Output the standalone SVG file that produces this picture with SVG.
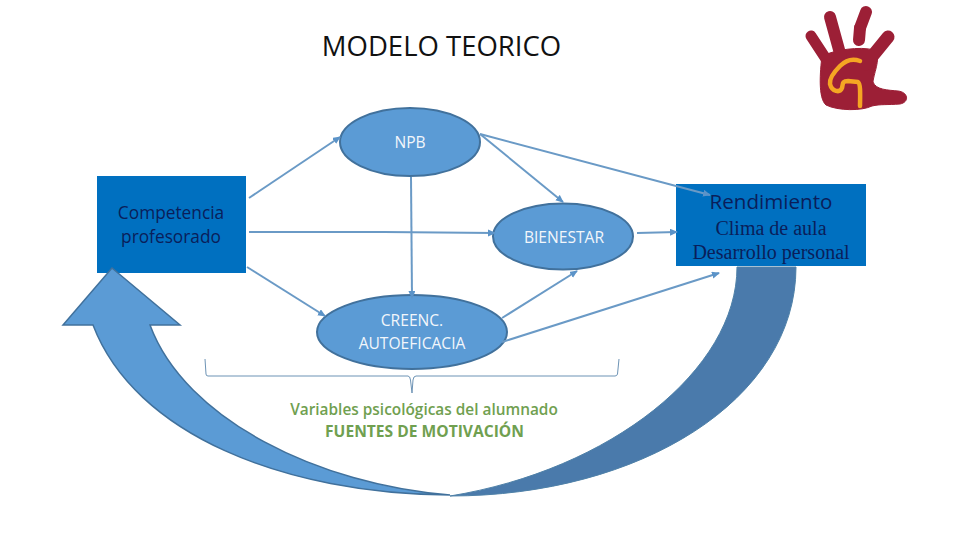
<svg xmlns="http://www.w3.org/2000/svg" width="960" height="540" viewBox="0 0 960 540">
<style>
text{font-family:"Open Sans","Noto Sans","Liberation Sans",sans-serif;text-anchor:middle}
.box{fill:#0070c0}
.ell{fill:#5b9bd5;stroke:#41719c;stroke-width:2}
.dk{fill:#0a1e5a}
.wt{fill:#f2f6fb;font-size:15.6px}
.sf{font-family:"Liberation Serif","Times New Roman",serif;font-size:20px}
.gr{fill:#70a050;font-size:15.4px;font-weight:600}
.cn{fill:none;stroke:#6a9ac6;stroke-width:2}
.ar{marker-end:url(#h)}
.hand{fill:#9c1f36;stroke:#9c1f36;stroke-linecap:round;stroke-linejoin:round}
</style>
<defs>
<marker id="h" markerWidth="9" markerHeight="8" refX="7" refY="3.5" orient="auto" markerUnits="userSpaceOnUse"><path d="M0 0L8 3.5L0 7Z" fill="#5b93c8"/></marker>
</defs>
<rect width="960" height="540" fill="#fff"/>
<text id="title" x="441.500" y="56" font-size="27.500" fill="#111">MODELO TEORICO</text>
<g id="logo">
<path class="hand" stroke-width="1" d="M822 56C834 50 860 46 874 50C882 56 874 72 873 82C876 90 888 90 898 91C908 92 910 102 900 104C888 105 880 104 872 106C862 111 838 111 826 105C818 98 820 72 822 56Z"/>
<path class="hand" stroke-width="11" fill="none" d="M811 36L828 62"/>
<path class="hand" stroke-width="12" fill="none" d="M830 17L841 57"/>
<path class="hand" stroke-width="13" fill="none" d="M888 37L866 64"/>
<path class="hand" stroke-width="12" fill="none" d="M866 12L860 28"/>
<path class="hand" stroke-width="12" fill="none" d="M860 28L859 40"/>
<path d="M860 61C852 58 846 60 840 66C834 72 829 78 830 84C832 92 840 93 842 88C843 84 842 81 848 81L858 82C861 84 860 98 860 106" fill="none" stroke="#f5a623" stroke-width="4.500" stroke-linecap="round" stroke-linejoin="round"/>
</g>
<g id="competencia"><rect class="box" x="97" y="176" width="149" height="97"/>
<text class="dk" x="171" y="219" font-size="17.300">Competencia</text><text class="dk" x="171" y="243" font-size="17.300">profesorado</text></g>
<g id="rendimiento"><rect class="box" x="676" y="184" width="190" height="82"/>
<text class="dk" x="771" y="209" font-size="20.600">Rendimiento</text><text class="dk sf" x="771" y="235">Clima de aula</text><text class="dk sf" x="771" y="259">Desarrollo personal</text></g>
<g id="arrow-dark"><path d="M737 267L796 267C796 400 640 496 450 496C610 470 737 370 737 267Z" fill="#4a7aab" stroke="#4f81a8"/></g>
<g id="arrow-blue"><path d="M112 268L180 325L150 325C185 420 320 485 450 495C285 494 135 435 93 325L63 325Z" fill="#5b9bd5" stroke="#41719c" stroke-width="1.500" stroke-linejoin="miter"/></g>
<g id="npb"><ellipse class="ell" cx="410" cy="142" rx="70" ry="34"/><text class="wt" x="410" y="148">NPB</text></g>
<g id="bienestar"><ellipse class="ell" cx="563" cy="236.500" rx="70" ry="33"/><text class="wt" x="564" y="243">BIENESTAR</text></g>
<g id="creenc"><ellipse class="ell" cx="412" cy="332" rx="95" ry="37"/><text class="wt" x="412" y="326">CREENC.</text><text class="wt" x="412" y="349">AUTOEFICACIA</text></g>
<g id="connectors">
<path class="cn ar" d="M249 198L340 137"/>
<path class="cn ar" d="M249 232L384 232L495 233"/>
<path class="cn ar" d="M247 267L325 316"/>
<path class="cn ar" d="M411 177L412 298"/>
<path class="cn ar" d="M480 134L563 202"/>
<path class="cn ar" d="M480 134L710 195"/>
<path class="cn ar" d="M637 233L677 232"/>
<path class="cn ar" d="M502 318L577 271"/>
<path class="cn ar" d="M502 342L719 273"/>
<path d="M205 359L206 374Q206 376 208 376L408 376Q410 376 410.500 380L412 393L413 380Q413.500 376 416 376L615 376Q617 376 617.500 374L619 359" fill="none" stroke="#6d93b5" stroke-width="1"/>
</g>
<g id="fuentes"><text class="gr" x="424" y="415">Variables psicológicas del alumnado</text><text class="gr" x="424.500" y="437" style="font-size:15.6px;font-weight:700">FUENTES DE MOTIVACIÓN</text></g>
</svg>
